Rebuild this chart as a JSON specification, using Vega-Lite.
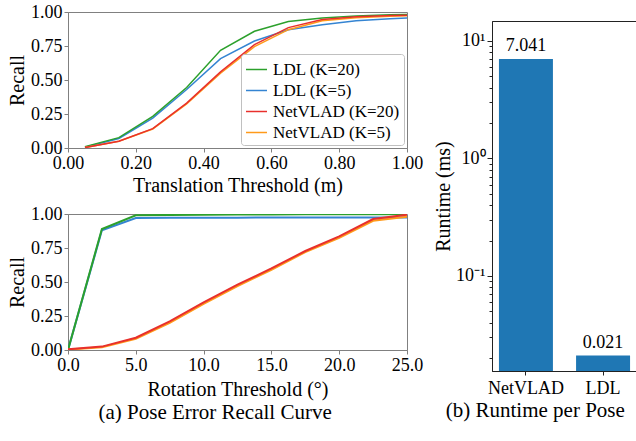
{
  "$schema": "https://vega.github.io/schema/vega-lite/v6.json",
  "padding": {"left": 7, "top": 2, "right": 0, "bottom": 0},
  "background": "white",
  "datasets": {
    "trans": [
      {"x": 0.05, "recall": 0.005, "method": "LDL (K=5)"},
      {"x": 0.15, "recall": 0.07, "method": "LDL (K=5)"},
      {"x": 0.25, "recall": 0.22, "method": "LDL (K=5)"},
      {"x": 0.35, "recall": 0.43, "method": "LDL (K=5)"},
      {"x": 0.45, "recall": 0.657, "method": "LDL (K=5)"},
      {"x": 0.55, "recall": 0.787, "method": "LDL (K=5)"},
      {"x": 0.65, "recall": 0.87, "method": "LDL (K=5)"},
      {"x": 0.75, "recall": 0.907, "method": "LDL (K=5)"},
      {"x": 0.85, "recall": 0.935, "method": "LDL (K=5)"},
      {"x": 0.95, "recall": 0.95, "method": "LDL (K=5)"},
      {"x": 1.0, "recall": 0.955, "method": "LDL (K=5)"},
      {"x": 0.05, "recall": 0.01, "method": "LDL (K=20)"},
      {"x": 0.15, "recall": 0.076, "method": "LDL (K=20)"},
      {"x": 0.25, "recall": 0.233, "method": "LDL (K=20)"},
      {"x": 0.35, "recall": 0.445, "method": "LDL (K=20)"},
      {"x": 0.45, "recall": 0.718, "method": "LDL (K=20)"},
      {"x": 0.55, "recall": 0.858, "method": "LDL (K=20)"},
      {"x": 0.65, "recall": 0.93, "method": "LDL (K=20)"},
      {"x": 0.75, "recall": 0.955, "method": "LDL (K=20)"},
      {"x": 0.85, "recall": 0.97, "method": "LDL (K=20)"},
      {"x": 0.95, "recall": 0.98, "method": "LDL (K=20)"},
      {"x": 1.0, "recall": 0.982, "method": "LDL (K=20)"},
      {"x": 0.05, "recall": 0.003, "method": "NetVLAD (K=5)"},
      {"x": 0.15, "recall": 0.05, "method": "NetVLAD (K=5)"},
      {"x": 0.25, "recall": 0.14, "method": "NetVLAD (K=5)"},
      {"x": 0.35, "recall": 0.325, "method": "NetVLAD (K=5)"},
      {"x": 0.45, "recall": 0.55, "method": "NetVLAD (K=5)"},
      {"x": 0.55, "recall": 0.745, "method": "NetVLAD (K=5)"},
      {"x": 0.65, "recall": 0.87, "method": "NetVLAD (K=5)"},
      {"x": 0.75, "recall": 0.935, "method": "NetVLAD (K=5)"},
      {"x": 0.85, "recall": 0.958, "method": "NetVLAD (K=5)"},
      {"x": 0.95, "recall": 0.968, "method": "NetVLAD (K=5)"},
      {"x": 1.0, "recall": 0.972, "method": "NetVLAD (K=5)"},
      {"x": 0.05, "recall": 0.003, "method": "NetVLAD (K=20)"},
      {"x": 0.15, "recall": 0.05, "method": "NetVLAD (K=20)"},
      {"x": 0.25, "recall": 0.142, "method": "NetVLAD (K=20)"},
      {"x": 0.35, "recall": 0.33, "method": "NetVLAD (K=20)"},
      {"x": 0.45, "recall": 0.56, "method": "NetVLAD (K=20)"},
      {"x": 0.55, "recall": 0.76, "method": "NetVLAD (K=20)"},
      {"x": 0.65, "recall": 0.885, "method": "NetVLAD (K=20)"},
      {"x": 0.75, "recall": 0.945, "method": "NetVLAD (K=20)"},
      {"x": 0.85, "recall": 0.965, "method": "NetVLAD (K=20)"},
      {"x": 0.95, "recall": 0.975, "method": "NetVLAD (K=20)"},
      {"x": 1.0, "recall": 0.977, "method": "NetVLAD (K=20)"}
    ],
    "rot": [
      {"x": 0, "recall": 0.0, "method": "LDL (K=5)"},
      {"x": 2.5, "recall": 0.88, "method": "LDL (K=5)"},
      {"x": 5, "recall": 0.97, "method": "LDL (K=5)"},
      {"x": 7.5, "recall": 0.972, "method": "LDL (K=5)"},
      {"x": 10, "recall": 0.973, "method": "LDL (K=5)"},
      {"x": 12.5, "recall": 0.973, "method": "LDL (K=5)"},
      {"x": 15, "recall": 0.974, "method": "LDL (K=5)"},
      {"x": 17.5, "recall": 0.974, "method": "LDL (K=5)"},
      {"x": 20, "recall": 0.975, "method": "LDL (K=5)"},
      {"x": 22.5, "recall": 0.975, "method": "LDL (K=5)"},
      {"x": 25, "recall": 0.975, "method": "LDL (K=5)"},
      {"x": 0, "recall": 0.0, "method": "LDL (K=20)"},
      {"x": 2.5, "recall": 0.89, "method": "LDL (K=20)"},
      {"x": 5, "recall": 0.99, "method": "LDL (K=20)"},
      {"x": 7.5, "recall": 0.993, "method": "LDL (K=20)"},
      {"x": 10, "recall": 0.995, "method": "LDL (K=20)"},
      {"x": 12.5, "recall": 0.996, "method": "LDL (K=20)"},
      {"x": 15, "recall": 0.997, "method": "LDL (K=20)"},
      {"x": 17.5, "recall": 0.998, "method": "LDL (K=20)"},
      {"x": 20, "recall": 0.998, "method": "LDL (K=20)"},
      {"x": 22.5, "recall": 0.999, "method": "LDL (K=20)"},
      {"x": 25, "recall": 0.999, "method": "LDL (K=20)"},
      {"x": 0, "recall": 0.003, "method": "NetVLAD (K=5)"},
      {"x": 2.5, "recall": 0.02, "method": "NetVLAD (K=5)"},
      {"x": 5, "recall": 0.082, "method": "NetVLAD (K=5)"},
      {"x": 7.5, "recall": 0.2, "method": "NetVLAD (K=5)"},
      {"x": 10, "recall": 0.34, "method": "NetVLAD (K=5)"},
      {"x": 12.5, "recall": 0.47, "method": "NetVLAD (K=5)"},
      {"x": 15, "recall": 0.59, "method": "NetVLAD (K=5)"},
      {"x": 17.5, "recall": 0.72, "method": "NetVLAD (K=5)"},
      {"x": 20, "recall": 0.825, "method": "NetVLAD (K=5)"},
      {"x": 22.5, "recall": 0.95, "method": "NetVLAD (K=5)"},
      {"x": 25, "recall": 0.98, "method": "NetVLAD (K=5)"},
      {"x": 0, "recall": 0.005, "method": "NetVLAD (K=20)"},
      {"x": 2.5, "recall": 0.025, "method": "NetVLAD (K=20)"},
      {"x": 5, "recall": 0.09, "method": "NetVLAD (K=20)"},
      {"x": 7.5, "recall": 0.21, "method": "NetVLAD (K=20)"},
      {"x": 10, "recall": 0.35, "method": "NetVLAD (K=20)"},
      {"x": 12.5, "recall": 0.48, "method": "NetVLAD (K=20)"},
      {"x": 15, "recall": 0.6, "method": "NetVLAD (K=20)"},
      {"x": 17.5, "recall": 0.728, "method": "NetVLAD (K=20)"},
      {"x": 20, "recall": 0.835, "method": "NetVLAD (K=20)"},
      {"x": 22.5, "recall": 0.963, "method": "NetVLAD (K=20)"},
      {"x": 25, "recall": 0.995, "method": "NetVLAD (K=20)"}
    ],
    "runtime": [
      {"method": "NetVLAD", "runtime": 7.041, "base": 0.0155, "label": "7.041"},
      {"method": "LDL", "runtime": 0.021, "base": 0.0155, "label": "0.021"}
    ]
  },
  "hconcat": [
    {
      "title": {"text": "(a) Pose Error Recall Curve", "orient": "bottom", "anchor": "middle", "offset": 2},
      "spacing": 8,
      "resolve": {"scale": {"color": "independent"}, "legend": {"color": "independent"}},
      "vconcat": [
        {
          "width": 339,
          "height": 136,
          "data": {"name": "trans"},
          "mark": {"type": "line", "strokeWidth": 1.5, "clip": true},
          "encoding": {
            "x": {"field": "x", "type": "quantitative", "scale": {"domain": [0, 1], "nice": false},
              "axis": {"title": "Translation Threshold (m)", "values": [0, 0.2, 0.4, 0.6, 0.8, 1.0], "format": ".2f"}},
            "y": {"field": "recall", "type": "quantitative", "scale": {"domain": [0, 1], "nice": false},
              "axis": {"title": "Recall", "values": [0, 0.25, 0.5, 0.75, 1.0], "format": ".2f"}},
            "color": {"field": "method", "type": "nominal",
              "scale": {"domain": ["LDL (K=20)", "LDL (K=5)", "NetVLAD (K=20)", "NetVLAD (K=5)"],
                        "range": ["#2ca02c", "#3484d2", "#e8302c", "#ff9a1a"]},
              "legend": {"title": null, "orient": "bottom-right", "offset": 3}}
          }
        },
        {
          "width": 339,
          "height": 136,
          "data": {"name": "rot"},
          "mark": {"type": "line", "strokeWidth": 2, "clip": true},
          "encoding": {
            "x": {"field": "x", "type": "quantitative", "scale": {"domain": [0, 25], "nice": false},
              "axis": {"title": "Rotation Threshold (°)", "titlePadding": 5, "values": [0, 5, 10, 15, 20, 25], "format": ".1f"}},
            "y": {"field": "recall", "type": "quantitative", "scale": {"domain": [0, 1], "nice": false},
              "axis": {"title": "Recall", "values": [0, 0.25, 0.5, 0.75, 1.0], "format": ".2f"}},
            "color": {"field": "method", "type": "nominal",
              "scale": {"domain": ["LDL (K=20)", "LDL (K=5)", "NetVLAD (K=20)", "NetVLAD (K=5)"],
                        "range": ["#2ca02c", "#3484d2", "#e8302c", "#ff9a1a"]},
              "legend": null}
          }
        }
      ]
    },
    {
      "title": {"text": "(b) Runtime per Pose", "orient": "bottom", "anchor": "middle", "offset": 2},
      "spacing": 0,
      "vconcat": [
        {
          "width": 145,
          "height": 6,
          "view": {"stroke": null, "fill": "white"},
          "data": {"values": [{"blank": ""}]},
          "mark": {"type": "text"},
          "encoding": {"text": {"field": "blank"}}
        },
        {
          "width": 145,
          "height": 350,
          "view": {"stroke": "#222222", "strokeWidth": 1},
          "data": {"name": "runtime"},
          "encoding": {
            "x": {"field": "method", "type": "nominal", "sort": ["NetVLAD", "LDL"],
              "scale": {"paddingInner": 0.3, "paddingOuter": 0.09},
              "axis": {"title": null, "labelAngle": 0, "labelPadding": 4, "domainColor": "#222222", "tickColor": "#222222"}},
            "y": {"field": "runtime", "type": "quantitative",
              "scale": {"type": "log", "domain": [0.0155, 14.8], "nice": false},
              "axis": {"title": "Runtime (ms)", "titlePadding": 2, "domainColor": "#222222", "tickColor": "#222222",
                "values": [0.02, 0.03, 0.04, 0.05, 0.06, 0.07, 0.08, 0.09, 0.1, 0.2, 0.3, 0.4, 0.5, 0.6, 0.7, 0.8, 0.9, 1, 2, 3, 4, 5, 6, 7, 8, 9, 10],
                "labelExpr": "datum.value == 10 ? '10¹' : datum.value == 1 ? '10⁰' : abs(datum.value - 0.1) < 1e-9 ? '10⁻¹' : ''",
                "tickSize": {"condition": {"test": "datum.value == 10 || datum.value == 1 || abs(datum.value - 0.1) < 1e-9", "value": 5}, "value": 3}}}
          },
          "layer": [
            {"mark": {"type": "bar", "color": "#1f77b4"},
             "encoding": {"y2": {"field": "base"}}},
            {"mark": {"type": "text", "baseline": "bottom", "dy": -4, "fontSize": 18, "font": "Liberation Serif", "color": "black"},
             "encoding": {"text": {"field": "label"}}}
          ]
        }
      ]
    }
  ],
  "spacing": 9,
  "config": {
    "font": "Liberation Serif",
    "view": {"stroke": "#808080", "strokeWidth": 1},
    "axis": {
      "grid": false,
      "labelFlush": false,
      "labelOverlap": false,
      "labelFont": "Liberation Serif",
      "titleFont": "Liberation Serif",
      "labelFontSize": 18,
      "titleFontSize": 20,
      "titleFontWeight": "normal",
      "labelColor": "black",
      "titleColor": "black",
      "domainColor": "#808080",
      "domainWidth": 1,
      "tickColor": "#808080",
      "tickWidth": 1,
      "tickSize": 4,
      "labelPadding": 2,
      "titlePadding": 3
    },
    "legend": {
      "symbolType": "stroke",
      "symbolSize": 440,
      "symbolStrokeWidth": 1.5,
      "labelFont": "Liberation Serif",
      "labelFontSize": 17,
      "labelColor": "black",
      "labelLimit": 300,
      "strokeColor": "#c0c0c0",
      "fillColor": "white",
      "cornerRadius": 3,
      "padding": 4,
      "rowPadding": 1,
      "labelOffset": 5
    },
    "title": {"font": "Liberation Serif", "fontSize": 21, "fontWeight": "normal", "color": "black"}
  }
}
